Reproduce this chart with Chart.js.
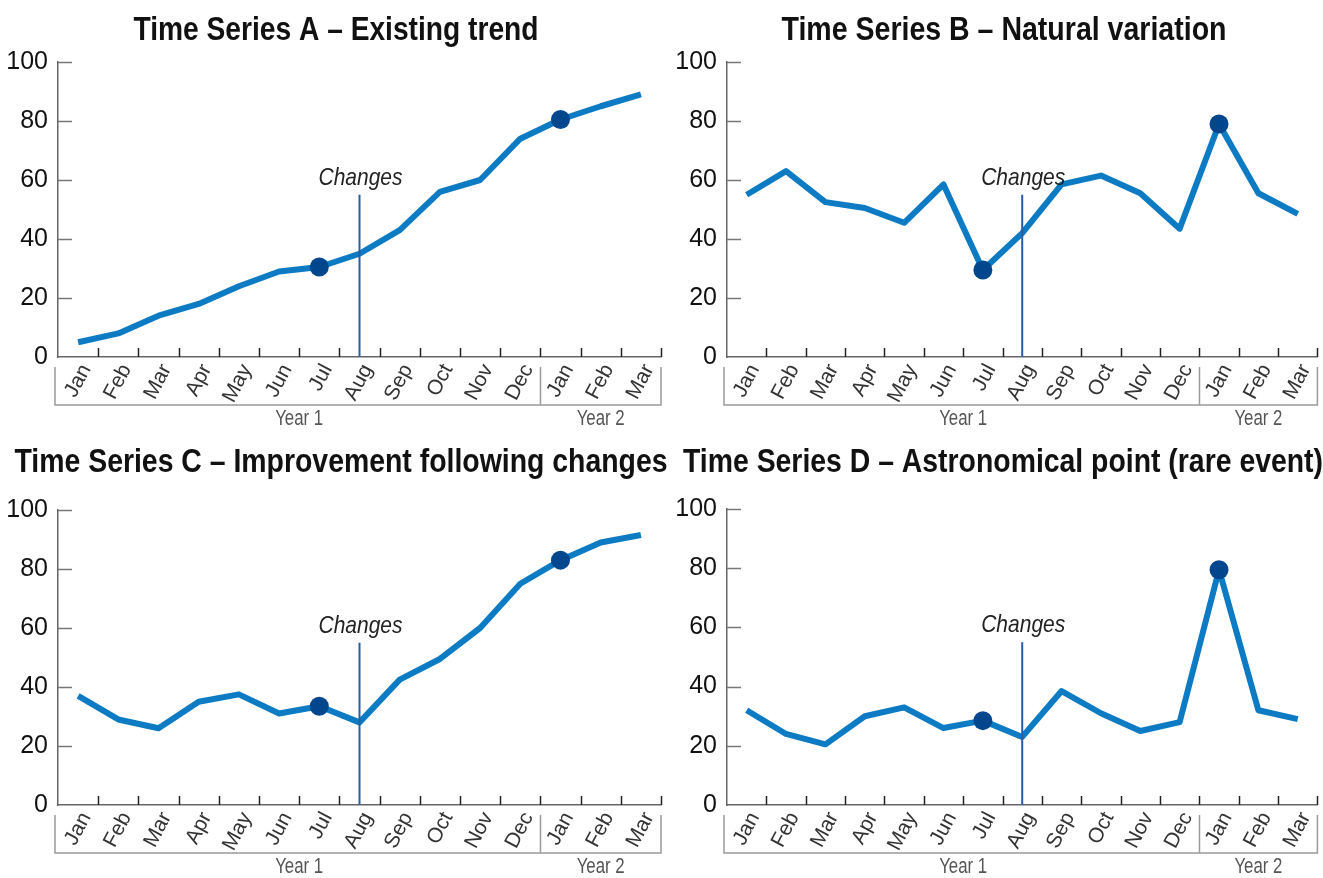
<!DOCTYPE html>
<html>
<head>
<meta charset="utf-8">
<title>Time series</title>
<script src="https://cdn.jsdelivr.net/npm/chart.js@4/dist/chart.umd.min.js"></script>
<style>
    body { margin: 0; background: #fff; }
    #wrap { position: relative; width: 1323px; height: 878px; overflow: hidden; }
    #wrap canvas { position: absolute; left: 0; top: 0; }
</style>
</head>
<body>
<div id="wrap">
    <canvas id="chartA" width="1323" height="878"></canvas>
    <canvas id="chartB" width="1323" height="878"></canvas>
    <canvas id="chartC" width="1323" height="878"></canvas>
    <canvas id="chartD" width="1323" height="878"></canvas>
</div>
<script>
// categories
const months = ['Jan', 'Feb', 'Mar', 'Apr', 'May', 'Jun', 'Jul', 'Aug', 'Sep', 'Oct', 'Nov', 'Dec', 'Jan', 'Feb', 'Mar'];
const yearLabels = ['Year 1', 'Year 2'];
const yearLengths = [12, 3];
const yTickValues = [0, 20, 40, 60, 80, 100];

const titles = [
    'Time Series A \u2013 Existing trend',
    'Time Series B \u2013 Natural variation',
    'Time Series C \u2013 Improvement following changes',
    'Time Series D \u2013 Astronomical point (rare event)'
];

// values
const seriesA = [5, 8, 14, 18, 24, 29, 30.5, 35, 43, 56, 60, 74, 80.5, 85, 89];
const seriesB = [55, 63, 52.5, 50.5, 45.5, 58.5, 29.5, 42, 58.5, 61.5, 55.5, 43.5, 79, 55.5, 48.5];
const seriesC = [37, 29, 26, 35, 37.5, 31, 33.5, 28, 42.5, 49.5, 60, 75, 83, 89, 91.5];
const seriesD = [32, 24, 20.5, 30, 33, 26, 28.5, 23, 38.5, 31, 25, 28, 79.5, 32, 29];

const highlighted = [6, 12];   // Jul (year 1) and Jan (year 2)
const changesAt = 7;           // Aug
const changesTop = 55;
const changesLabel = 'Changes';

const NARROW = '"Liberation Sans Narrow", "Liberation Sans", Arial, sans-serif';

// where each panel sits on the page
const panels = [
    { id: 'chartA', values: seriesA, title: titles[0], area: { left: 58, top: 62, right: 661, bottom: 357 }, titleX: 336, titleY: 31, titleW: 405 },
    { id: 'chartB', values: seriesB, title: titles[1], area: { left: 727, top: 62, right: 1323, bottom: 357 }, titleX: 1004, titleY: 31, titleW: 445 },
    { id: 'chartC', values: seriesC, title: titles[2], area: { left: 58, top: 510, right: 661, bottom: 805 }, titleX: 341, titleY: 463, titleW: 653 },
    { id: 'chartD', values: seriesD, title: titles[3], area: { left: 727, top: 509, right: 1323, bottom: 805 }, titleX: 1003, titleY: 463, titleW: 640 }
];

const Y_AXIS_W = 58;
const X_AXIS_H = 80;

function makeDecor(panel) {
    return {
        id: 'decor',
        afterDatasetsDraw(chart) {
            const { ctx, scales: { x, y } } = chart;
            const cx = x.getPixelForValue(changesAt);
            const cy = y.getPixelForValue(changesTop);
            ctx.save();
            ctx.strokeStyle = '#2a5ca6';
            ctx.lineWidth = 2;
            ctx.beginPath();
            ctx.moveTo(cx, y.getPixelForValue(0));
            ctx.lineTo(cx, cy);
            ctx.stroke();

            ctx.font = 'italic 24px ' + NARROW;
            ctx.fillStyle = '#222';
            ctx.textAlign = 'center';
            ctx.textBaseline = 'alphabetic';
            ctx.fillText(changesLabel, cx + 1, cy - 10, 84);
            ctx.restore();
        },
        afterDraw(chart) {
            const { ctx, chartArea: a, scales: { x, y } } = chart;
            const catW = x.getPixelForValue(1) - x.getPixelForValue(0);
            const edge = i => x.getPixelForValue(i) + catW / 2;
            ctx.save();

            // title
            ctx.font = 'bold 34px ' + NARROW;
            ctx.fillStyle = '#111';
            ctx.textAlign = 'center';
            ctx.textBaseline = 'middle';
            ctx.fillText(panel.title, panel.titleX, panel.titleY, panel.titleW);

            // y ticks pointing into the plot
            ctx.strokeStyle = '#777';
            ctx.lineWidth = 1.5;
            yTickValues.forEach(v => {
                if (v === 0) return;
                const py = Math.round(y.getPixelForValue(v)) + 0.5;
                ctx.beginPath();
                ctx.moveTo(a.left, py);
                ctx.lineTo(a.left + 14, py);
                ctx.stroke();
            });

            // x ticks on category edges, pointing up
            ctx.strokeStyle = '#222';
            for (let i = 0; i < months.length; i++) {
                const px = Math.round(edge(i)) + 0.5;
                ctx.beginPath();
                ctx.moveTo(px, a.bottom);
                ctx.lineTo(px, a.bottom - 9);
                ctx.stroke();
            }

            // year bracket
            const top = a.bottom + 10;
            const bot = a.bottom + 48;
            ctx.strokeStyle = '#9a9a9a';
            ctx.lineWidth = 1.5;
            ctx.beginPath();
            ctx.moveTo(a.left - 3, top);
            ctx.lineTo(a.left - 3, bot);
            ctx.lineTo(edge(months.length - 1), bot);
            ctx.lineTo(edge(months.length - 1), top);
            ctx.stroke();

            let start = 0;
            ctx.font = '22px ' + NARROW;
            ctx.fillStyle = '#555';
            yearLengths.forEach((n, k) => {
                const x0 = start === 0 ? a.left : edge(start - 1);
                const x1 = edge(start + n - 1);
                if (k < yearLengths.length - 1) {
                    ctx.beginPath();
                    ctx.moveTo(Math.round(x1) + 0.5, top);
                    ctx.lineTo(Math.round(x1) + 0.5, bot);
                    ctx.stroke();
                }
                ctx.fillText(yearLabels[k], (x0 + x1) / 2, a.bottom + 62, 48);
                start += n;
            });
            ctx.restore();
        }
    };
}

function drawPanel(panel) {
    const a = panel.area;
    const ctx = document.getElementById(panel.id).getContext('2d');
    new Chart(ctx, {
        type: 'line',
        data: {
            labels: months,
            datasets: [{
                data: panel.values,
                borderColor: '#0d7bc4',
                borderWidth: 6,
                borderJoinStyle: 'round',
                tension: 0,
                fill: false,
                pointRadius: panel.values.map((v, i) => highlighted.includes(i) ? 9.5 : 0),
                pointBackgroundColor: '#02478e',
                pointBorderWidth: 0,
                pointHoverRadius: 0
            }]
        },
        options: {
            responsive: false,
            animation: false,
            events: [],
            layout: {
                padding: {
                    left: a.left - Y_AXIS_W,
                    top: a.top,
                    right: 1323 - a.right,
                    bottom: 878 - a.bottom - X_AXIS_H
                }
            },
            plugins: {
                legend: { display: false },
                title: { display: false },
                tooltip: { enabled: false }
            },
            scales: {
                x: {
                    type: 'category',
                    offset: true,
                    grid: { display: false, drawTicks: false },
                    border: { display: true, color: '#666', width: 1.5 },
                    ticks: {
                        autoSkip: false,
                        minRotation: 62,
                        maxRotation: 62,
                        padding: 3,
                        labelOffset: 8,
                        color: '#333',
                        font: { family: NARROW, size: 21 }
                    },
                    afterFit(scale) { scale.height = X_AXIS_H; }
                },
                y: {
                    min: 0,
                    max: 100,
                    grid: { display: false, drawTicks: false },
                    border: { display: true, color: '#666', width: 1.5 },
                    ticks: {
                        stepSize: 20,
                        padding: 10,
                        color: '#111',
                        font: { family: NARROW, size: 25 }
                    },
                    afterFit(scale) { scale.width = Y_AXIS_W; }
                }
            }
        },
        plugins: [makeDecor(panel)]
    });
}

panels.forEach(drawPanel);
</script>
</body>
</html>
